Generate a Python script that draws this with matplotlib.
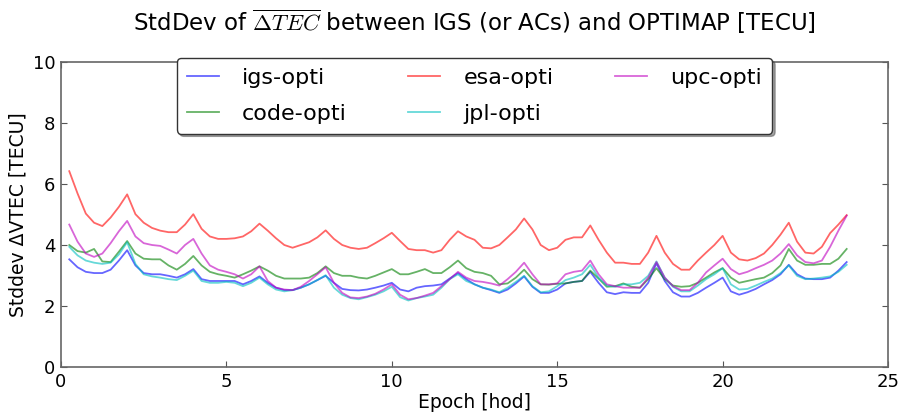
import numpy as np
import matplotlib
matplotlib.use("Agg")
import matplotlib.pyplot as plt

plt.rcParams['font.family'] = ['DejaVu Sans']
plt.rcParams['mathtext.fontset'] = 'cm'

# Epochs (hours), every 15 minutes
epoch = np.arange(0.25, 24.0, 0.25)

igs_opti = [3.53, 3.27, 3.12, 3.08, 3.08, 3.19, 3.49, 3.83,
            3.33, 3.08, 3.04, 3.04, 2.99, 2.93, 3.04, 3.21,
            2.88, 2.82, 2.82, 2.82, 2.82, 2.71, 2.82, 2.97,
            2.76, 2.60, 2.52, 2.52, 2.60, 2.71, 2.85, 2.99,
            2.76, 2.56, 2.52, 2.51, 2.54, 2.60, 2.67, 2.76,
            2.54, 2.48, 2.60, 2.65, 2.67, 2.71, 2.90, 3.08,
            2.88, 2.71, 2.60, 2.52, 2.43, 2.54, 2.74, 2.97,
            2.63, 2.43, 2.43, 2.54, 2.74, 2.79, 2.82, 3.12,
            2.76, 2.45, 2.39, 2.45, 2.43, 2.43, 2.76, 3.40,
            2.82, 2.45, 2.31, 2.31, 2.43, 2.60, 2.76, 2.93,
            2.48, 2.37, 2.45, 2.56, 2.71, 2.85, 3.04, 3.35,
            3.04, 2.90, 2.88, 2.88, 2.93, 3.16, 3.44]

code_opti = [4.00, 3.80, 3.75, 3.87, 3.46, 3.44, 3.78, 4.13,
             3.72, 3.55, 3.53, 3.53, 3.33, 3.19, 3.38, 3.64,
             3.33, 3.12, 3.04, 2.99, 2.93, 3.04, 3.16, 3.30,
             3.16, 2.99, 2.90, 2.90, 2.90, 2.93, 3.08, 3.30,
             3.08, 2.99, 2.99, 2.93, 2.90, 2.99, 3.10, 3.21,
             3.04, 3.04, 3.12, 3.21, 3.08, 3.08, 3.27, 3.49,
             3.24, 3.12, 3.08, 2.99, 2.71, 2.74, 2.93, 3.19,
             2.88, 2.71, 2.70, 2.73, 2.74, 2.79, 2.82, 3.16,
             2.90, 2.63, 2.65, 2.74, 2.63, 2.60, 2.88, 3.24,
             2.88, 2.67, 2.63, 2.65, 2.76, 2.93, 3.10, 3.24,
             2.93, 2.76, 2.82, 2.88, 2.93, 3.08, 3.33, 3.87,
             3.49, 3.35, 3.35, 3.38, 3.38, 3.55, 3.87]

esa_opti = [6.42, 5.69, 5.03, 4.73, 4.62, 4.90, 5.25, 5.66,
            5.01, 4.73, 4.56, 4.47, 4.42, 4.42, 4.67, 5.01,
            4.53, 4.28, 4.20, 4.20, 4.22, 4.28, 4.45, 4.70,
            4.47, 4.22, 4.00, 3.91, 4.00, 4.09, 4.25, 4.48,
            4.20, 4.00, 3.91, 3.87, 3.91, 4.06, 4.22, 4.40,
            4.13, 3.87, 3.83, 3.83, 3.75, 3.83, 4.17, 4.45,
            4.28, 4.17, 3.91, 3.89, 4.00, 4.25, 4.51, 4.87,
            4.51, 4.00, 3.83, 3.91, 4.17, 4.25, 4.25, 4.64,
            4.17, 3.75, 3.42, 3.42, 3.38, 3.38, 3.75, 4.30,
            3.75, 3.38, 3.19, 3.19, 3.49, 3.75, 4.00, 4.30,
            3.75, 3.53, 3.49, 3.57, 3.72, 4.00, 4.34, 4.73,
            4.11, 3.75, 3.72, 3.94, 4.39, 4.67, 4.98]

jpl_opti = [3.94, 3.66, 3.49, 3.42, 3.38, 3.42, 3.69, 4.09,
            3.38, 3.04, 2.97, 2.93, 2.88, 2.85, 2.99, 3.16,
            2.82, 2.76, 2.76, 2.79, 2.76, 2.65, 2.76, 2.93,
            2.71, 2.54, 2.48, 2.52, 2.60, 2.71, 2.85, 3.01,
            2.60, 2.37, 2.26, 2.22, 2.29, 2.37, 2.48, 2.63,
            2.29, 2.18, 2.26, 2.31, 2.37, 2.60, 2.88, 3.04,
            2.82, 2.71, 2.60, 2.54, 2.45, 2.60, 2.79, 2.99,
            2.65, 2.45, 2.48, 2.65, 2.85, 2.93, 3.04, 3.35,
            2.93, 2.67, 2.63, 2.71, 2.71, 2.76, 2.99, 3.46,
            2.93, 2.63, 2.48, 2.48, 2.67, 2.88, 3.04, 3.24,
            2.71, 2.54, 2.56, 2.67, 2.79, 2.90, 3.08, 3.33,
            2.99, 2.88, 2.90, 2.93, 2.97, 3.12, 3.35]

upc_opti = [4.67, 4.11, 3.72, 3.61, 3.72, 4.06, 4.45, 4.79,
            4.28, 4.06, 4.00, 3.97, 3.85, 3.72, 4.00, 4.20,
            3.72, 3.33, 3.19, 3.12, 3.04, 2.90, 3.04, 3.30,
            2.82, 2.60, 2.54, 2.52, 2.63, 2.82, 3.04, 3.27,
            2.76, 2.43, 2.28, 2.26, 2.31, 2.40, 2.54, 2.71,
            2.37, 2.22, 2.26, 2.34, 2.43, 2.65, 2.88, 3.12,
            2.93, 2.82, 2.79, 2.74, 2.67, 2.88, 3.12, 3.42,
            3.04, 2.71, 2.71, 2.74, 3.04, 3.12, 3.16, 3.49,
            3.04, 2.71, 2.65, 2.60, 2.60, 2.60, 2.93, 3.44,
            2.93, 2.65, 2.52, 2.52, 2.76, 3.10, 3.33, 3.55,
            3.21, 3.04, 3.12, 3.24, 3.35, 3.49, 3.72, 4.03,
            3.66, 3.44, 3.40, 3.49, 3.94, 4.47, 4.96]

series = [
    ("igs-opti", igs_opti, "b"),
    ("code-opti", code_opti, "g"),
    ("esa-opti", esa_opti, "r"),
    ("jpl-opti", jpl_opti, "c"),
    ("upc-opti", upc_opti, "m"),
]

fig = plt.figure(figsize=(9.01, 4.13), dpi=100)
ax = fig.add_axes([0.0677, 0.1114, 0.9179, 0.7385])

for name, vals, col in series:
    ax.plot(epoch, vals, color=col, alpha=0.6, lw=1.3, label=name)

ax.set_xlim(0, 25)
ax.set_ylim(0, 10)
ax.set_xticks(np.arange(0, 26, 5))
ax.set_yticks(np.arange(0, 11, 2))
ax.tick_params(direction="in", top=True, right=True, labelsize=13,
               length=4, color="#555555", pad=4)
for sp in ax.spines.values():
    sp.set_color("#666666")
    sp.set_linewidth(1.2)

ax.set_xlabel("Epoch [hod]", fontsize=13.5, labelpad=2)
ax.set_ylabel("Stddev ΔVTEC [TECU]", fontsize=13.5, labelpad=4)
ax.set_title(r"StdDev of $\overline{\Delta TEC}$ between IGS (or ACs) and OPTIMAP [TECU]",
             fontsize=16.5, pad=22)

leg = ax.legend(loc="upper center", bbox_to_anchor=(0.5, 1.013), ncol=3,
                fontsize=16, fancybox=True, shadow=True, framealpha=1,
                handlelength=1.45, columnspacing=2.75, borderpad=0.45,
                labelspacing=0.7, handletextpad=1.05, borderaxespad=0)
leg.get_frame().set_edgecolor("#333333")

fig.savefig("out.png", dpi=100)
